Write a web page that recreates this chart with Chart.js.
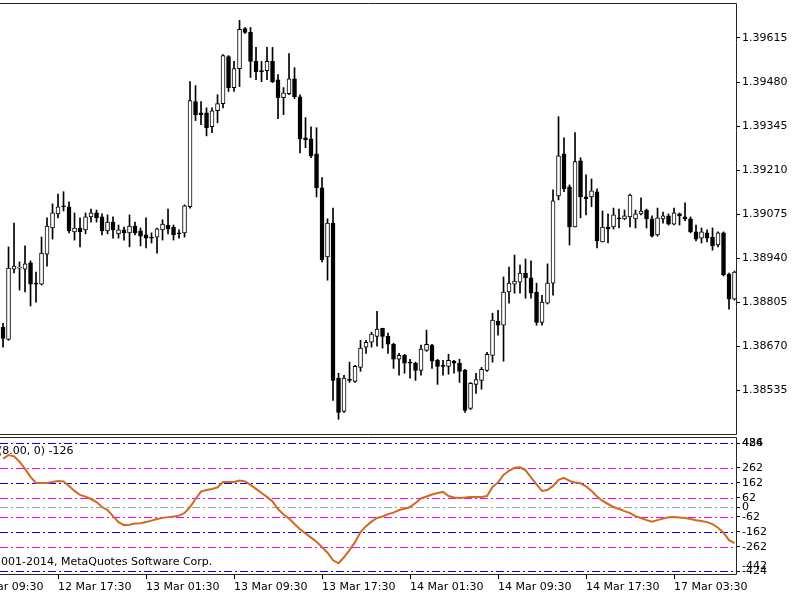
<!DOCTYPE html>
<html>
<head>
<meta charset="utf-8">
<script src="https://cdn.jsdelivr.net/npm/chart.js@4.4.1/dist/chart.umd.min.js"></script>
<style>
  html, body { margin: 0; padding: 0; background: #fff; }
  #wrap { position: relative; width: 800px; height: 600px; overflow: hidden; }
  #ind { position: absolute; left: 0; top: 430px; background: #fff; }
  #main { position: absolute; left: 0; top: 0; background: #fff; }
</style>
</head>
<body>
<div id="wrap">
  <canvas id="ind" width="800" height="170"></canvas>
  <canvas id="main" width="800" height="437"></canvas>
</div>
<script>
// M30 candles, one value per bar
const open = [1.38729,1.38692,1.38907,1.38910,1.38907,1.38926,1.38864,1.38861,1.38953,1.39033,
  1.39076,1.39101,1.39098,1.39021,1.39033,1.39027,1.39067,1.39079,1.39067,1.39024,
  1.39051,1.39015,1.39027,1.39018,1.39039,1.39024,1.39012,1.39005,1.39005,1.39027,
  1.39042,1.39036,1.39018,1.39018,1.39098,1.39420,1.39386,1.39386,1.39343,1.39392,
  1.39414,1.39558,1.39463,1.39521,1.39644,1.39632,1.39543,1.39515,1.39515,1.39543,
  1.39487,1.39432,1.39444,1.39490,1.39435,1.39309,1.39306,1.39260,1.39156,1.38944,
  1.39048,1.38573,1.38471,1.38569,1.38563,1.38606,1.38668,1.38683,1.38701,1.38726,
  1.38701,1.38677,1.38631,1.38643,1.38622,1.38619,1.38597,1.38658,1.38674,1.38628,
  1.38612,1.38609,1.38625,1.38619,1.38597,1.38480,1.38554,1.38566,1.38597,1.38643,
  1.38748,1.38735,1.38837,1.38861,1.38867,1.38895,1.38880,1.38837,1.38744,1.38803,
  1.38864,1.39131,1.39260,1.39159,1.39036,1.39239,1.39128,1.39128,1.39144,1.38990,
  1.39036,1.39036,1.39064,1.39061,1.39067,1.39061,1.39076,1.39088,1.39061,1.39012,
  1.39061,1.39070,1.39045,1.39076,1.39067,1.39061,1.39021,1.39002,1.39018,1.39005,
  1.38981,1.39018,1.38892,1.38815];
const high = [1.38741,1.38975,1.39048,1.38929,1.38978,1.38932,1.38898,1.39005,1.39064,1.39107,
  1.39137,1.39144,1.39113,1.39079,1.39064,1.39079,1.39091,1.39088,1.39076,1.39073,
  1.39067,1.39042,1.39036,1.39073,1.39051,1.39033,1.39064,1.39018,1.39033,1.39058,
  1.39091,1.39042,1.39027,1.39104,1.39481,1.39469,1.39420,1.39401,1.39401,1.39441,
  1.39564,1.39561,1.39543,1.39669,1.39647,1.39647,1.39586,1.39543,1.39586,1.39586,
  1.39503,1.39463,1.39567,1.39524,1.39441,1.39371,1.39343,1.39340,1.39187,1.39061,
  1.39094,1.38588,1.38582,1.38622,1.38612,1.38689,1.38689,1.38714,1.38778,1.38726,
  1.38711,1.38680,1.38649,1.38646,1.38631,1.38622,1.38674,1.38720,1.38677,1.38631,
  1.38628,1.38646,1.38628,1.38631,1.38600,1.38560,1.38588,1.38606,1.38652,1.38772,
  1.38781,1.38883,1.38913,1.38950,1.38919,1.38938,1.38932,1.38864,1.38827,1.38923,
  1.39150,1.39374,1.39309,1.39165,1.39325,1.39248,1.39196,1.39183,1.39153,1.39085,
  1.39076,1.39094,1.39091,1.39088,1.39137,1.39088,1.39125,1.39091,1.39070,1.39094,
  1.39082,1.39076,1.39094,1.39079,1.39110,1.39067,1.39042,1.39033,1.39027,1.39033,
  1.39021,1.39021,1.38895,1.38901];
const low = [1.38668,1.38689,1.38895,1.38843,1.38837,1.38794,1.38806,1.38858,1.38916,1.38999,
  1.39064,1.39085,1.39018,1.38996,1.38975,1.39015,1.39051,1.39051,1.39012,1.39015,
  1.39002,1.39002,1.38996,1.38975,1.39012,1.38978,1.38972,1.38987,1.38956,1.38996,
  1.39015,1.38996,1.39002,1.39005,1.39094,1.39362,1.39349,1.39315,1.39325,1.39355,
  1.39401,1.39451,1.39451,1.39466,1.39629,1.39494,1.39487,1.39481,1.39487,1.39478,
  1.39368,1.39380,1.39441,1.39429,1.39263,1.39279,1.39248,1.39128,1.38929,1.38873,
  1.38505,1.38447,1.38468,1.38560,1.38560,1.38594,1.38649,1.38668,1.38671,1.38665,
  1.38649,1.38603,1.38582,1.38588,1.38573,1.38566,1.38582,1.38655,1.38603,1.38554,
  1.38582,1.38585,1.38588,1.38560,1.38468,1.38477,1.38526,1.38539,1.38594,1.38622,
  1.38705,1.38625,1.38803,1.38833,1.38833,1.38818,1.38818,1.38735,1.38735,1.38800,
  1.38827,1.39119,1.39144,1.38981,1.39036,1.39064,1.39073,1.39098,1.38972,1.38990,
  1.38987,1.39030,1.39033,1.39058,1.39036,1.39033,1.39073,1.39033,1.39005,1.39008,
  1.39048,1.39042,1.39042,1.39042,1.39055,1.39018,1.38993,1.38987,1.38990,1.38965,
  1.38975,1.38886,1.38784,1.38812];
const close = [1.38695,1.38910,1.38916,1.38913,1.38923,1.38861,1.38861,1.38956,1.39039,1.39079,
  1.39098,1.39098,1.39024,1.39033,1.39021,1.39067,1.39079,1.39064,1.39024,1.39051,
  1.39027,1.39027,1.39018,1.39039,1.39018,1.39008,1.39002,1.39002,1.39030,1.39045,
  1.39030,1.39012,1.39015,1.39101,1.39423,1.39380,1.39380,1.39340,1.39392,1.39414,
  1.39561,1.39463,1.39521,1.39641,1.39632,1.39543,1.39512,1.39512,1.39543,1.39481,
  1.39432,1.39447,1.39490,1.39435,1.39306,1.39303,1.39254,1.39156,1.38935,1.39048,
  1.38566,1.38468,1.38573,1.38566,1.38609,1.38665,1.38683,1.38708,1.38723,1.38701,
  1.38677,1.38631,1.38643,1.38619,1.38619,1.38597,1.38662,1.38677,1.38625,1.38609,
  1.38609,1.38628,1.38619,1.38594,1.38474,1.38557,1.38569,1.38600,1.38646,1.38751,
  1.38735,1.38837,1.38864,1.38870,1.38895,1.38880,1.38833,1.38744,1.38806,1.38864,
  1.39116,1.39254,1.39153,1.39036,1.39236,1.39128,1.39122,1.39147,1.38993,1.39036,
  1.39030,1.39073,1.39061,1.39070,1.39134,1.39076,1.39085,1.39061,1.39008,1.39064,
  1.39070,1.39045,1.39079,1.39070,1.39061,1.39021,1.38999,1.39021,1.39002,1.38978,
  1.39018,1.38889,1.38815,1.38898];

// oscillator in the sub-window
const indicator = [322,346,338,302,255,202,162,162,162,168,
  175,172,142,109,82,71,55,35,2,-18,
  -58,-98,-118,-115,-108,-105,-98,-88,-78,-70,
  -65,-61,-55,-38,2,55,104,115,122,132,
  168,168,168,178,172,149,122,95,69,39,
  -11,-48,-75,-111,-145,-174,-201,-228,-264,-301,
  -351,-371,-331,-284,-231,-164,-125,-95,-71,-61,
  -45,-35,-18,-10,2,29,59,72,85,95,
  102,75,65,62,65,69,69,69,75,135,
  165,215,242,262,265,245,198,152,109,115,
  142,182,195,175,165,159,139,109,72,42,
  22,2,-11,-25,-38,-58,-71,-85,-95,-85,
  -75,-66,-65,-68,-71,-78,-85,-91,-98,-111,
  -135,-168,-218,-238];

const priceTicks = [1.38535, 1.38670, 1.38805, 1.38940, 1.39075, 1.39210, 1.39345, 1.39480, 1.39615];
const levels = [424, 262, 162, 62, 0, -62, -162, -262, -424];
const levelColors = ['#0000ff', '#ff00ff', '#0000ff', '#ff00ff', '#a0a0a0', '#ff00ff', '#0000ff', '#ff00ff', '#0000ff'];
const indMax = 486, indMin = -442;
const timeBars = [-6, 10, 26, 42, 58, 74, 90, 106, 122];
const timeLabels = ['12 Mar 09:30', '12 Mar 17:30', '13 Mar 01:30', '13 Mar 09:30', '13 Mar 17:30',
  '14 Mar 01:30', '14 Mar 09:30', '14 Mar 17:30', '17 Mar 03:30'];

const xMin = -0.55, xMax = 133.27;
const font = { family: 'DejaVu Sans', size: 11 };

// keep the plot area where the terminal puts it
const noPad = s => { s.paddingLeft = 0; s.paddingRight = 0; s.paddingTop = 0; s.paddingBottom = 0; };

const frame = {
  id: 'frame',
  afterDraw(chart, args, opts) {
    const { ctx, chartArea: a } = chart;
    const top = Math.round(a.top + (opts.topShift || 0)) + 0.5;
    const r = Math.round(a.right) + 0.5, b = Math.round(a.bottom) + 0.5;
    ctx.save();
    ctx.strokeStyle = '#262626';
    ctx.lineWidth = 1;
    ctx.beginPath();
    ctx.moveTo(0, top); ctx.lineTo(r, top); ctx.lineTo(r, b); ctx.lineTo(0, b);
    ctx.stroke();
    ctx.restore();
  }
};

const levelLines = {
  id: 'levelLines',
  beforeDatasetsDraw(chart) {
    const { ctx, chartArea: a, scales: { y } } = chart;
    ctx.save();
    ctx.lineWidth = 1;
    ctx.setLineDash([8, 3, 2, 3]);
    levels.forEach((v, i) => {
      const py = Math.round(y.getPixelForValue(v)) + 0.5;
      ctx.strokeStyle = levelColors[i];
      ctx.beginPath(); ctx.moveTo(a.left, py); ctx.lineTo(a.right, py); ctx.stroke();
    });
    ctx.restore();
  }
};

const captions = {
  id: 'captions',
  afterDraw(chart) {
    const { ctx, chartArea: a } = chart;
    ctx.save();
    ctx.font = '11px "DejaVu Sans"';
    ctx.fillStyle = '#000';
    ctx.textBaseline = 'middle';
    ctx.textAlign = 'left';
    ctx.fillText('(8.00, 0) -126', -2, a.top + 17);
    ctx.fillText('2001-2014, MetaQuotes Software Corp.', -6, a.bottom - 12);
    // min / max of the window, pulled inside like the terminal does
    ctx.fillText(String(indMax), a.right + 6, a.top + 9);
    ctx.fillText(String(indMin), a.right + 6, a.bottom - 8);
    ctx.restore();
  }
};

const bull = open.map((o, i) => close[i] >= o);

new Chart(document.getElementById('main'), {
  type: 'bar',
  data: {
    datasets: [{
      data: open.map((o, i) => ({ x: i, y: [o, close[i]] })),
      backgroundColor: bull.map(b => b ? '#ffffff' : '#000000'),
      borderColor: '#000',
      borderWidth: 1,
      borderSkipped: false,
      barThickness: 4,
      minBarLength: 1,
      grouped: false,
      order: 0
    }, {
      data: low.map((l, i) => ({ x: i, y: [l, high[i]] })),
      backgroundColor: '#000',
      barThickness: 1,
      grouped: false,
      order: 1
    }]
  },
  options: {
    responsive: false,
    animation: false,
    devicePixelRatio: 1,
    layout: { padding: { top: 3, bottom: 3, left: 0, right: 0 } },
    plugins: { legend: { display: false }, tooltip: { enabled: false }, frame: {} },
    scales: {
      x: { type: 'linear', min: xMin, max: xMax, offset: false, display: false },
      y: {
        position: 'right',
        min: 1.38402,
        max: 1.39722,
        afterBuildTicks: s => { s.ticks = priceTicks.map(v => ({ value: v })); },
        afterFit: s => { s.width = 64; noPad(s); },
        ticks: { callback: v => v.toFixed(5), font, color: '#000', padding: 2 },
        grid: { drawOnChartArea: false, tickLength: 4, color: '#000' },
        border: { display: false }
      }
    }
  },
  plugins: [frame]
});

new Chart(document.getElementById('ind'), {
  type: 'line',
  data: {
    datasets: [{
      data: indicator.map((v, i) => ({ x: i, y: v })),
      borderColor: '#d2691e',
      borderWidth: 2,
      pointRadius: 0,
      tension: 0
    }]
  },
  options: {
    responsive: false,
    animation: false,
    devicePixelRatio: 1,
    layout: { padding: { top: 4, bottom: 0, left: 0, right: 0 } },
    plugins: { legend: { display: false }, tooltip: { enabled: false }, frame: { topShift: 3 } },
    scales: {
      x: {
        type: 'linear', min: xMin, max: xMax, offset: false,
        afterBuildTicks: s => { s.ticks = timeBars.map(v => ({ value: v })); },
        afterFit: s => { s.height = 26; noPad(s); },
        ticks: { autoSkip: false, maxRotation: 0, align: 'start', padding: 2,
          callback: (v, i) => timeLabels[i], font, color: '#000' },
        grid: { drawOnChartArea: false, tickLength: 5, color: '#000' },
        border: { display: false }
      },
      y: {
        position: 'right', min: indMin, max: indMax,
        afterBuildTicks: s => { s.ticks = levels.map(v => ({ value: v })); },
        afterFit: s => { s.width = 64; noPad(s); },
        ticks: { font, color: '#000', padding: 2 },
        grid: { drawOnChartArea: false, tickLength: 4, color: '#000' },
        border: { display: false }
      }
    }
  },
  plugins: [levelLines, frame, captions]
});
</script>
</body>
</html>
